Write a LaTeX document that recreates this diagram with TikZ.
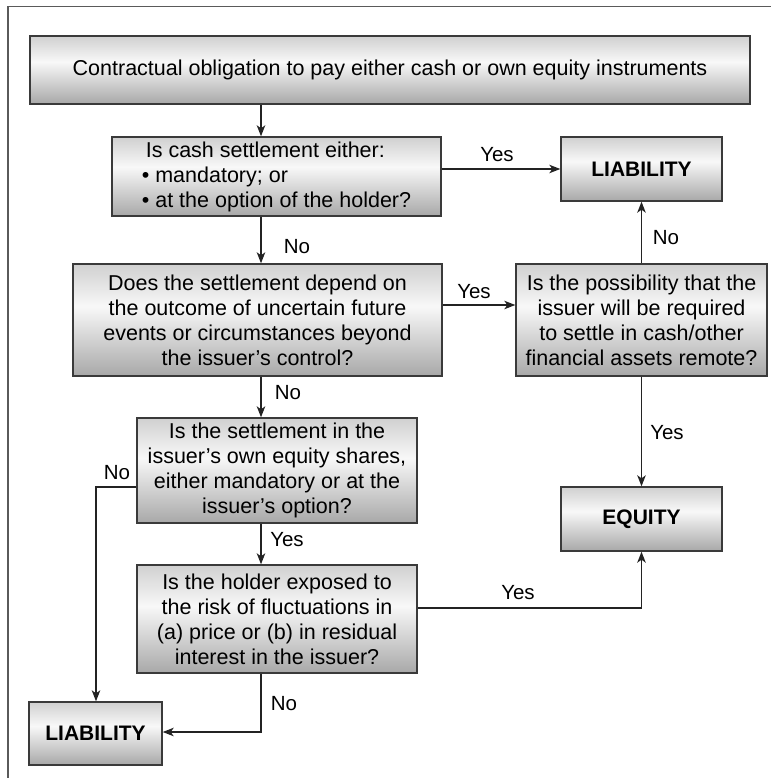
\documentclass[tikz,border=0pt]{standalone}
\usepackage{fontspec}
\setmainfont{Liberation Sans}
\usetikzlibrary{arrows.meta}

\definecolor{shTop}{RGB}{208,208,208}
\definecolor{shMid}{RGB}{248,248,248}
\definecolor{shBot}{RGB}{168,168,168}
\definecolor{edge}{RGB}{58,58,58}
\definecolor{wire}{RGB}{35,35,35}
\definecolor{framec}{RGB}{90,90,90}

% light band a little above the middle, darker towards the bottom
\pgfdeclareverticalshading{boxshade}{100bp}{%
  color(0bp)=(shBot); color(25bp)=(shBot); color(56bp)=(shMid);
  color(75bp)=(shTop); color(100bp)=(shTop)}

\begin{document}
\begin{tikzpicture}[x=1pt,y=-1pt,
  box/.style={draw=edge, line width=1.4pt, shading=boxshade, rectangle,
    inner sep=0pt, align=center, font=\fontsize{21.5}{25}\selectfont},
  verdict/.style={box, font=\fontsize{21}{25}\selectfont\bfseries},
  link/.style={draw=wire, line width=1.3pt,
    -{Stealth[length=11pt,width=8.5pt,inset=3pt]}},
  tag/.style={font=\fontsize{20.5}{24}\selectfont, inner sep=0pt},
]
\useasboundingbox (0,0) rectangle (771,778);

% outer frame (top and left sides)
\draw[framec, line width=1.3pt] (8,778) -- (8,6.5) -- (771,6.5);

% boxes
\node[box, minimum width=720pt, minimum height=68pt] (top) at (390,70)
  {Contractual obligation to pay either cash or own equity instruments};
\node[box, align=left, minimum width=329pt, minimum height=79pt] (q1) at (276.5,176.5)
  {\hspace*{4pt}Is cash settlement either:\\ \textbullet\ mandatory; or\\ \textbullet\ at the option of the holder?};
\node[verdict, minimum width=161pt, minimum height=64pt] (liab1) at (641.5,169) {LIABILITY};
\node[box, minimum width=369pt, minimum height=112pt] (q2) at (257.5,320)
  {Does the settlement depend on\\ the outcome of uncertain future\\ events or circumstances beyond\\ the issuer’s control?};
\node[box, minimum width=251pt, minimum height=112pt] (qr) at (641.5,320)
  {Is the possibility that the\\ issuer will be required\\ to settle in cash/other\\ financial assets remote?};
\node[verdict, minimum width=161pt, minimum height=64pt] (equity) at (641.5,519) {EQUITY};
\node[box, minimum width=280pt, minimum height=105pt] (q3) at (277,470.5)
  {Is the settlement in the\\ issuer’s own equity shares,\\ either mandatory or at the\\ issuer’s option?};
\node[box, minimum width=280pt, minimum height=108pt] (q4) at (277,619)
  {Is the holder exposed to\\ the risk of fluctuations in\\ (a) price or (b) in residual\\ interest in the issuer?};
\node[verdict, minimum width=133pt, minimum height=63pt] (liab2) at (95.5,733.5) {LIABILITY};

% routing points
\coordinate (spine) at (261,0);
\coordinate (row2) at (0,305);
\coordinate (noLeft) at (96,487);
\coordinate (yesRow) at (0,608);
\coordinate (noRow) at (0,732);

% connectors
\draw[link] (top.south -| spine) -- (q1.north -| spine);
\draw[link] (q1.east |- liab1.west) -- (liab1.west);
\draw[link] (q1.south -| spine) -- (q2.north -| spine);
\draw[link] (q2.east |- row2) -- (qr.west |- row2);
\draw[link] (qr.north) -- (liab1.south);
\draw[link] (qr.south) -- (equity.north);
\draw[link] (q2.south -| spine) -- (q3.north -| spine);
\draw[link] (q3.south -| spine) -- (q4.north -| spine);
\draw[link] (q3.west |- noLeft) -- (noLeft) -- (liab2.north -| noLeft);
\draw[link] (q4.east |- yesRow) -- (yesRow -| equity.south) -- (equity.south);
\draw[link] (q4.south -| spine) -- (spine |- noRow) -- (liab2.east |- noRow);

% connector labels
\node[tag] (tYes1) at (497,155) {Yes};
\node[tag] (tNo1) at (297,247) {No};
\node[tag] (tYes2) at (474,292) {Yes};
\node[tag] (tNoR) at (666,238) {No};
\node[tag] (tYesR) at (667,433) {Yes};
\node[tag] (tNo2) at (288,393) {No};
\node[tag] (tYes3) at (287,540) {Yes};
\node[tag] (tNoL) at (117,473) {No};
\node[tag] (tYes4) at (518,593) {Yes};
\node[tag] (tNoB) at (284,704) {No};
\end{tikzpicture}
\end{document}
